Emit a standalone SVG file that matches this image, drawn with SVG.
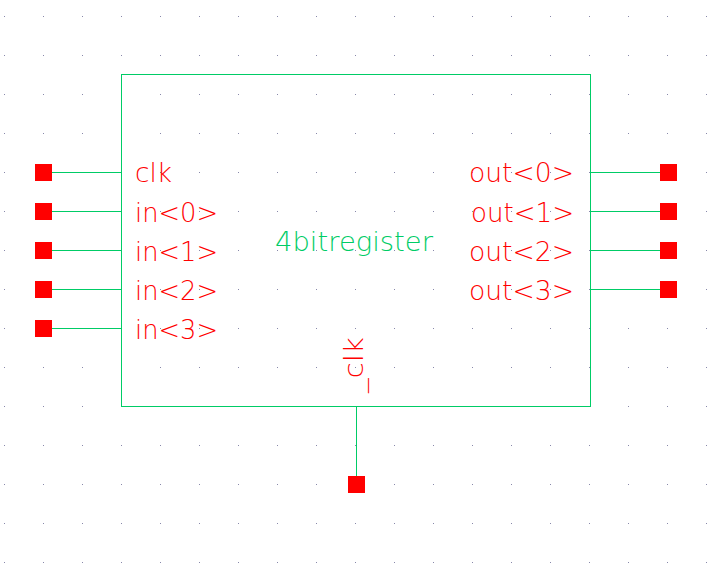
<svg xmlns="http://www.w3.org/2000/svg" width="711" height="564" viewBox="0 0 711 564">
<defs>
<pattern id="grid" patternUnits="userSpaceOnUse" x="4" y="16" width="39" height="39">
<rect x="0" y="0" width="1" height="1" fill="#8888aa"/>
</pattern>
<style>
.ln{stroke:#00cc66;stroke-width:1;fill:none}
.pin{fill:#ff0000}
.lbl{font-family:"DejaVu Sans","Liberation Sans",sans-serif;font-weight:200;font-size:26px;fill:#ff0000}
.name{font-family:"DejaVu Sans","Liberation Sans",sans-serif;font-weight:200;font-size:26px;fill:#00cc66}
</style>
</defs>
<rect x="0" y="0" width="711" height="564" fill="#ffffff"/>
<rect x="0" y="0" width="711" height="564" fill="url(#grid)"/>
<g id="connectors">
<line class="ln" x1="52" y1="172.5" x2="121.5" y2="172.5"/>
<line class="ln" x1="52" y1="211.5" x2="121.5" y2="211.5"/>
<line class="ln" x1="52" y1="250.5" x2="121.5" y2="250.5"/>
<line class="ln" x1="52" y1="289.5" x2="121.5" y2="289.5"/>
<line class="ln" x1="52" y1="328.5" x2="121.5" y2="328.5"/>
<line class="ln" x1="590.5" y1="172.5" x2="660" y2="172.5"/>
<line class="ln" x1="590.5" y1="211.5" x2="660" y2="211.5"/>
<line class="ln" x1="590.5" y1="250.5" x2="660" y2="250.5"/>
<line class="ln" x1="590.5" y1="289.5" x2="660" y2="289.5"/>
<line class="ln" x1="356.5" y1="406.5" x2="356.5" y2="476"/>
</g>
<g id="block">
<rect class="ln" x="121.5" y="74.5" width="469" height="332"/>
<text class="name" x="275" y="251" textLength="158" lengthAdjust="spacingAndGlyphs">4bitregister</text>
</g>
<g id="pin-clk"><rect class="pin" x="35" y="164" width="17" height="17"/><text class="lbl" x="135" y="182" textLength="37" lengthAdjust="spacingAndGlyphs">clk</text></g>
<g id="pin-in0"><rect class="pin" x="35" y="203" width="17" height="17"/><text class="lbl" x="135" y="222" textLength="83" lengthAdjust="spacingAndGlyphs">in&lt;0&gt;</text></g>
<g id="pin-in1"><rect class="pin" x="35" y="242" width="17" height="17"/><text class="lbl" x="135" y="261" textLength="83" lengthAdjust="spacingAndGlyphs">in&lt;1&gt;</text></g>
<g id="pin-in2"><rect class="pin" x="35" y="281" width="17" height="17"/><text class="lbl" x="135" y="300" textLength="83" lengthAdjust="spacingAndGlyphs">in&lt;2&gt;</text></g>
<g id="pin-in3"><rect class="pin" x="35" y="320" width="17" height="17"/><text class="lbl" x="135" y="339" textLength="83" lengthAdjust="spacingAndGlyphs">in&lt;3&gt;</text></g>
<g id="pin-out0"><rect class="pin" x="660" y="164" width="17" height="17"/><text class="lbl" x="469" y="182" textLength="105" lengthAdjust="spacingAndGlyphs">out&lt;0&gt;</text></g>
<g id="pin-out1"><rect class="pin" x="660" y="203" width="17" height="17"/><text class="lbl" x="471" y="222" textLength="103" lengthAdjust="spacingAndGlyphs">out&lt;1&gt;</text></g>
<g id="pin-out2"><rect class="pin" x="660" y="242" width="17" height="17"/><text class="lbl" x="469" y="261" textLength="105" lengthAdjust="spacingAndGlyphs">out&lt;2&gt;</text></g>
<g id="pin-out3"><rect class="pin" x="660" y="281" width="17" height="17"/><text class="lbl" x="469" y="300" textLength="105" lengthAdjust="spacingAndGlyphs">out&lt;3&gt;</text></g>
<g id="pin-_clk"><rect class="pin" x="348" y="476" width="17" height="17"/><text class="lbl" transform="translate(363 393) rotate(-90)" x="0" y="0" textLength="56" lengthAdjust="spacingAndGlyphs">_clk</text></g>
</svg>
